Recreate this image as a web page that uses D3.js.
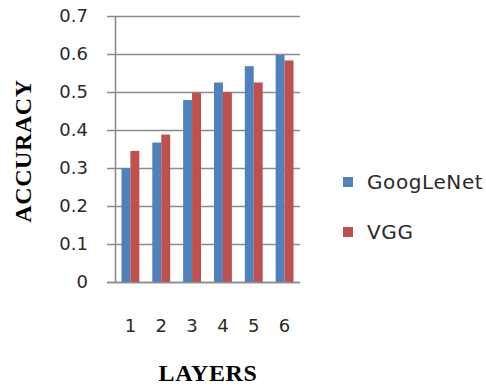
<!DOCTYPE html>
<html>
<head>
<meta charset="utf-8">
<script src="https://cdn.jsdelivr.net/npm/d3@7"></script>
<style>
  html, body { margin: 0; padding: 0; background: #ffffff; }
  svg { display: block; }
</style>
</head>
<body>
<svg id="chart" width="486" height="387"></svg>
<script>
// Accuracy per number of layers for two networks
const layers = ["1", "2", "3", "4", "5", "6"];
const seriesNames = ["GoogLeNet", "VGG"];
const googlenet = [0.30, 0.367, 0.479, 0.525, 0.568, 0.598];
const vgg = [0.345, 0.388, 0.498, 0.50, 0.525, 0.583];
const yTicks = [0, 0.1, 0.2, 0.3, 0.4, 0.5, 0.6, 0.7];
const colors = ["#4F81BD", "#C0504D"];

const seriesValues = [googlenet, vgg];
const svg = d3.select("#chart");

const plot = { left: 115, right: 300, top: 16, bottom: 282 };

const x = d3.scaleBand()
  .domain(layers)
  .range([plot.left, plot.right])
  .paddingInner(0.42)
  .paddingOuter(0.21);

const xSeries = d3.scaleBand()
  .domain(seriesNames)
  .range([0, x.bandwidth()]);

const y = d3.scaleLinear()
  .domain([0, 0.7])
  .range([plot.bottom, plot.top]);

const gridColor = "#8c8c8c";
const labelColor = "#2a2a2a";

// horizontal gridlines with the short tick stubs left of the axis
svg.append("g")
  .selectAll("line")
  .data(yTicks)
  .join("line")
  .attr("x1", plot.left - 8)
  .attr("x2", plot.right)
  .attr("y1", d => Math.round(y(d)) + 0.5)
  .attr("y2", d => Math.round(y(d)) + 0.5)
  .attr("stroke", gridColor)
  .attr("stroke-width", 1.6);

// value axis line
svg.append("line")
  .attr("x1", plot.left + 0.5).attr("x2", plot.left + 0.5)
  .attr("y1", y(0.7)).attr("y2", y(0))
  .attr("stroke", gridColor)
  .attr("stroke-width", 1.6);

// y tick labels
svg.append("g")
  .selectAll("text")
  .data(yTicks)
  .join("text")
  .attr("x", 88)
  .attr("y", d => y(d))
  .attr("dy", "0.36em")
  .attr("text-anchor", "end")
  .attr("font-family", "DejaVu Sans, sans-serif")
  .attr("font-size", 18)
  .attr("fill", labelColor)
  .text(d => d === 0 ? "0" : d3.format(".1f")(d));

// bars
const groups = svg.append("g")
  .selectAll("g")
  .data(layers)
  .join("g")
  .attr("transform", d => `translate(${x(d)},0)`);

groups.selectAll("rect")
  .data((d, i) => seriesNames.map((s, k) => ({ s, k, v: seriesValues[k][i] })))
  .join("rect")
  .attr("x", d => xSeries(d.s))
  .attr("width", xSeries.bandwidth())
  .attr("y", d => y(d.v))
  .attr("height", d => y(0) - y(d.v))
  .attr("fill", d => colors[d.k]);

// baseline drawn over bar bottoms
svg.append("line")
  .attr("x1", plot.left - 8).attr("x2", plot.right)
  .attr("y1", Math.round(y(0)) + 0.5).attr("y2", Math.round(y(0)) + 0.5)
  .attr("stroke", gridColor)
  .attr("stroke-width", 1.6);

// category labels
svg.append("g")
  .selectAll("text")
  .data(layers)
  .join("text")
  .attr("x", d => x(d) + x.bandwidth() / 2)
  .attr("y", 326)
  .attr("dy", "0.36em")
  .attr("text-anchor", "middle")
  .attr("font-family", "DejaVu Sans, sans-serif")
  .attr("font-size", 18)
  .attr("fill", labelColor)
  .text(d => d);

// axis titles
svg.append("text")
  .attr("x", 208)
  .attr("y", 372)
  .attr("dy", "0.36em")
  .attr("text-anchor", "middle")
  .attr("font-family", "Liberation Serif, serif")
  .attr("font-weight", "bold")
  .attr("font-size", 24)
  .attr("letter-spacing", 0.6)
  .attr("fill", "#000")
  .text("LAYERS");

svg.append("text")
  .attr("transform", "translate(22,151) rotate(-90)")
  .attr("dy", "0.36em")
  .attr("text-anchor", "middle")
  .attr("font-family", "Liberation Serif, serif")
  .attr("font-weight", "bold")
  .attr("font-size", 24)
  .attr("letter-spacing", 0.6)
  .attr("fill", "#000")
  .text("ACCURACY");

// legend
const legend = svg.append("g")
  .selectAll("g")
  .data(seriesNames)
  .join("g")
  .attr("transform", (d, i) => `translate(343,${182 + i * 50})`);

legend.append("rect")
  .attr("x", 0).attr("y", -5)
  .attr("width", 10).attr("height", 10)
  .attr("fill", (d, i) => colors[i]);

legend.append("text")
  .attr("x", 24)
  .attr("y", 0)
  .attr("dy", "0.36em")
  .attr("font-family", "DejaVu Sans, sans-serif")
  .attr("font-size", 20)
  .attr("letter-spacing", 0.6)
  .attr("fill", labelColor)
  .text(d => d);
</script>
</body>
</html>
